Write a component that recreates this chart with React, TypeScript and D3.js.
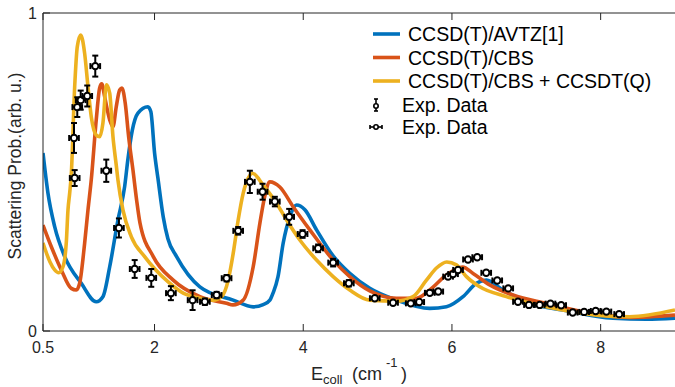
import React from "react";
import * as d3 from "d3";

// Theory curves: collision energy (cm^-1) vs scattering probability
const avtzCurve: [number, number][] = [
  [0.5, 0.56], [0.567, 0.433], [0.657, 0.328], [0.792, 0.234], [1.015, 0.15],
  [1.216, 0.092], [1.306, 0.108], [1.397, 0.202], [1.508, 0.349], [1.598, 0.454],
  [1.642, 0.54], [1.7, 0.63], [1.777, 0.685], [1.911, 0.705], [1.95, 0.69],
  [2.001, 0.559], [2.046, 0.48], [2.117, 0.359], [2.18, 0.29], [2.297, 0.234],
  [2.61, 0.139], [3.058, 0.097], [3.327, 0.076], [3.461, 0.083], [3.551, 0.097],
  [3.595, 0.12], [3.66, 0.17], [3.73, 0.276], [3.82, 0.359], [3.91, 0.396],
  [4.022, 0.381], [4.179, 0.318], [4.402, 0.236], [4.626, 0.181], [4.895, 0.134],
  [5.254, 0.097], [5.702, 0.071], [5.926, 0.076], [6.149, 0.108], [6.329, 0.15],
  [6.464, 0.16], [6.687, 0.129], [7.046, 0.087], [7.493, 0.066], [8.165, 0.04],
  [8.614, 0.037], [9.0, 0.04],
];

const cbsCurve: [number, number][] = [
  [0.5, 0.333], [0.612, 0.265], [0.746, 0.192], [0.88, 0.134], [0.948, 0.129],
  [0.993, 0.15], [1.06, 0.276], [1.105, 0.381], [1.149, 0.475], [1.216, 0.664],
  [1.262, 0.764], [1.29, 0.777], [1.329, 0.737], [1.397, 0.664], [1.441, 0.642],
  [1.485, 0.705], [1.531, 0.758], [1.562, 0.764], [1.606, 0.716], [1.652, 0.611],
  [1.71, 0.506], [1.759, 0.412], [1.804, 0.34], [1.983, 0.234], [2.251, 0.16],
  [2.61, 0.108], [2.969, 0.087], [3.054, 0.082], [3.192, 0.097], [3.327, 0.202],
  [3.417, 0.339], [3.484, 0.425], [3.551, 0.469], [3.685, 0.453], [3.864, 0.391],
  [4.089, 0.318], [4.402, 0.223], [4.626, 0.171], [4.895, 0.126], [5.254, 0.103],
  [5.523, 0.103], [5.702, 0.129], [5.926, 0.176], [6.145, 0.201], [6.284, 0.181],
  [6.508, 0.145], [6.821, 0.113], [7.27, 0.087], [7.942, 0.053], [8.39, 0.043],
  [9.0, 0.05],
];

const cbsQCurve: [number, number][] = [
  [0.5, 0.277], [0.594, 0.217], [0.657, 0.192], [0.711, 0.183], [0.769, 0.202],
  [0.813, 0.277], [0.836, 0.381], [0.859, 0.434], [0.88, 0.491], [0.926, 0.768],
  [0.961, 0.894], [1.007, 0.931], [1.06, 0.873], [1.105, 0.768], [1.149, 0.674],
  [1.216, 0.616], [1.262, 0.611], [1.306, 0.654], [1.353, 0.774], [1.397, 0.748],
  [1.441, 0.611], [1.485, 0.522], [1.508, 0.475], [1.575, 0.381], [1.687, 0.297],
  [1.867, 0.234], [2.18, 0.155], [2.386, 0.119], [2.61, 0.103], [2.789, 0.097],
  [2.902, 0.108], [2.991, 0.16], [3.058, 0.244], [3.125, 0.349], [3.192, 0.433],
  [3.259, 0.48], [3.316, 0.496], [3.461, 0.459], [3.641, 0.402], [3.776, 0.349],
  [3.954, 0.286], [4.179, 0.223], [4.402, 0.171], [4.626, 0.129], [4.895, 0.097],
  [5.254, 0.094], [5.477, 0.108], [5.657, 0.16], [5.792, 0.198], [5.93, 0.217],
  [6.06, 0.208], [6.195, 0.171], [6.374, 0.139], [6.733, 0.108], [7.27, 0.076],
  [7.942, 0.05], [8.39, 0.045], [9.0, 0.066],
];

// Experimental data, low-energy set (vertical error bars)
const expLowE = [0.926, 0.917, 0.961, 1.007, 1.095, 1.203, 1.351, 1.521, 1.733, 1.956,
  2.22, 2.512, 2.677, 2.835, 2.969, 3.125, 3.282, 3.453, 3.618, 3.811, 3.991, 4.2, 4.402, 4.613];
const expLowP = [0.481, 0.607, 0.704, 0.726, 0.739, 0.833, 0.504, 0.324, 0.195, 0.167,
  0.119, 0.097, 0.092, 0.113, 0.166, 0.315, 0.469, 0.438, 0.407, 0.359, 0.305, 0.26, 0.215, 0.15];
const expLowErr = [0.025, 0.047, 0.031, 0.03, 0.033, 0.033, 0.035, 0.03, 0.028, 0.028,
  0.022, 0.031, 0.01, 0.01, 0.01, 0.012, 0.035, 0.025, 0.015, 0.025, 0.012, 0.012, 0.012, 0.01];

// Experimental data, high-energy set (horizontal error bars)
const expHighE = [4.962, 5.208, 5.446, 5.56, 5.702, 5.816, 5.948, 6.015, 6.082, 6.216,
  6.34, 6.461, 6.609, 6.757, 6.888, 7.036, 7.18, 7.325, 7.469, 7.624, 7.778, 7.933, 8.077, 8.249];
const expHighP = [0.103, 0.089, 0.087, 0.091, 0.12, 0.124, 0.171, 0.179, 0.192, 0.225,
  0.232, 0.183, 0.159, 0.134, 0.092, 0.082, 0.082, 0.086, 0.081, 0.058, 0.06, 0.063, 0.061, 0.053];
const energyErr = 0.065;

const xTicks = [0.5, 2, 4, 6, 8];
const yTicks = [0, 1];

const seriesNames = ["CCSD(T)/AVTZ[1]", "CCSD(T)/CBS", "CCSD(T)/CBS + CCSDT(Q)"];
const seriesColors = ["#0072BD", "#D95319", "#EDB120"];
const expName = "Exp. Data";

const W = 675;
const H = 387;
const M = { left: 43, top: 13, right: 675, bottom: 331 };
const AXIS = "#262626";
const FONT = "'Liberation Sans', Arial, Helvetica, sans-serif";

export default function App() {
  const x = d3.scaleLinear().domain([0.5, 9]).range([M.left, M.right]);
  const y = d3.scaleLinear().domain([0, 1]).range([M.bottom, M.top]);
  const line = d3
    .line<[number, number]>()
    .x((d) => x(d[0]))
    .y((d) => y(d[1]))
    .curve(d3.curveMonotoneX);

  const curves = [avtzCurve, cbsCurve, cbsQCurve];
  const tickLen = 7;
  const r = 3.2;
  const cap = 3;

  const legendX = 373;
  const legendRows = [34, 57.5, 81, 105, 127];

  return (
    <svg
      width={W}
      height={H}
      style={{ position: "absolute", left: 0, top: 0, background: "#fff" }}
      fontFamily={FONT}
    >
      <defs>
        <clipPath id="plotArea">
          <rect x={M.left} y={M.top - 10} width={M.right - M.left} height={M.bottom - M.top + 10} />
        </clipPath>
      </defs>

      {/* theory curves */}
      <g clipPath="url(#plotArea)">
        {curves.map((c, i) => (
          <path
            key={i}
            d={line(c) ?? ""}
            fill="none"
            stroke={seriesColors[i]}
            strokeWidth={3.6}
            strokeLinejoin="round"
          />
        ))}
      </g>

      {/* experimental points, low-energy set */}
      <g stroke="#000" strokeWidth={2}>
        {expLowE.map((e, i) => {
          const cx = x(e);
          const cy = y(expLowP[i]);
          const y1 = y(expLowP[i] + expLowErr[i]);
          const y2 = y(expLowP[i] - expLowErr[i]);
          const x1 = x(e - energyErr);
          const x2 = x(e + energyErr);
          return (
            <g key={i}>
              <line x1={cx} x2={cx} y1={y1} y2={y2} />
              <line x1={cx - cap} x2={cx + cap} y1={y1} y2={y1} />
              <line x1={cx - cap} x2={cx + cap} y1={y2} y2={y2} />
              <line x1={x1} x2={x2} y1={cy} y2={cy} />
              <line x1={x1} x2={x1} y1={cy - cap} y2={cy + cap} />
              <line x1={x2} x2={x2} y1={cy - cap} y2={cy + cap} />
              <circle cx={cx} cy={cy} r={r} fill="#fff" />
            </g>
          );
        })}
        {/* high-energy set */}
        {expHighE.map((e, i) => {
          const cx = x(e);
          const cy = y(expHighP[i]);
          const x1 = x(e - energyErr);
          const x2 = x(e + energyErr);
          return (
            <g key={i}>
              <line x1={x1} x2={x2} y1={cy} y2={cy} />
              <line x1={x1} x2={x1} y1={cy - cap} y2={cy + cap} />
              <line x1={x2} x2={x2} y1={cy - cap} y2={cy + cap} />
              <circle cx={cx} cy={cy} r={r} fill="#fff" />
            </g>
          );
        })}
      </g>

      {/* axes box */}
      <g stroke={AXIS} strokeWidth={1} fill="none">
        <line x1={M.left} x2={M.right} y1={M.bottom} y2={M.bottom} />
        <line x1={M.left} x2={M.right} y1={M.top} y2={M.top} />
        <line x1={M.left} x2={M.left} y1={M.top} y2={M.bottom} />
        {xTicks.map((t) => (
          <g key={t}>
            <line x1={x(t)} x2={x(t)} y1={M.bottom} y2={M.bottom - tickLen} />
            <line x1={x(t)} x2={x(t)} y1={M.top} y2={M.top + tickLen} />
          </g>
        ))}
        {yTicks.map((t) => (
          <line key={t} x1={M.left} x2={M.left + tickLen} y1={y(t)} y2={y(t)} />
        ))}
      </g>

      {/* tick labels */}
      <g fill={AXIS} fontSize={16}>
        {xTicks.map((t) => (
          <text key={t} x={x(t)} y={353} textAnchor="middle">
            {String(t)}
          </text>
        ))}
        {yTicks.map((t) => (
          <text key={t} x={37} y={y(t)} textAnchor="end" dominantBaseline="central">
            {String(t)}
          </text>
        ))}
      </g>

      {/* axis labels */}
      <text
        transform={`translate(21,166) rotate(-90)`}
        textAnchor="middle"
        fontSize={17.5}
        fill={AXIS}
      >
        Scattering Prob.(arb. u.)
      </text>
      <g fill={AXIS}>
        <text x={311} y={380} fontSize={18}>E</text>
        <text x={323} y={384} fontSize={13}>coll</text>
        <text x={352} y={380} fontSize={18}>(cm</text>
        <text x={386} y={367} fontSize={13}>-1</text>
        <text x={401} y={380} fontSize={18}>)</text>
      </g>

      {/* legend */}
      <g fontSize={19.5} fill="#000">
        {seriesNames.map((n, i) => (
          <g key={n}>
            <line
              x1={legendX}
              x2={legendX + 27}
              y1={legendRows[i]}
              y2={legendRows[i]}
              stroke={seriesColors[i]}
              strokeWidth={3.6}
            />
            <text x={legendX + 35} y={legendRows[i]} dominantBaseline="central">
              {n}
            </text>
          </g>
        ))}
        <g stroke="#000" strokeWidth={1.6}>
          <line x1={376} x2={376} y1={legendRows[3] - 6} y2={legendRows[3] + 6} />
          <line x1={374} x2={378} y1={legendRows[3] - 6} y2={legendRows[3] - 6} />
          <line x1={374} x2={378} y1={legendRows[3] + 6} y2={legendRows[3] + 6} />
          <circle cx={376} cy={legendRows[3] + 1} r={2.2} fill="#fff" />
          <line x1={370} x2={382} y1={legendRows[4]} y2={legendRows[4]} />
          <line x1={370} x2={370} y1={legendRows[4] - 2} y2={legendRows[4] + 2} />
          <line x1={382} x2={382} y1={legendRows[4] - 2} y2={legendRows[4] + 2} />
          <circle cx={376} cy={legendRows[4]} r={2.2} fill="#fff" />
        </g>
        <text x={402} y={legendRows[3]} dominantBaseline="central">{expName}</text>
        <text x={402} y={legendRows[4]} dominantBaseline="central">{expName}</text>
      </g>
    </svg>
  );
}
